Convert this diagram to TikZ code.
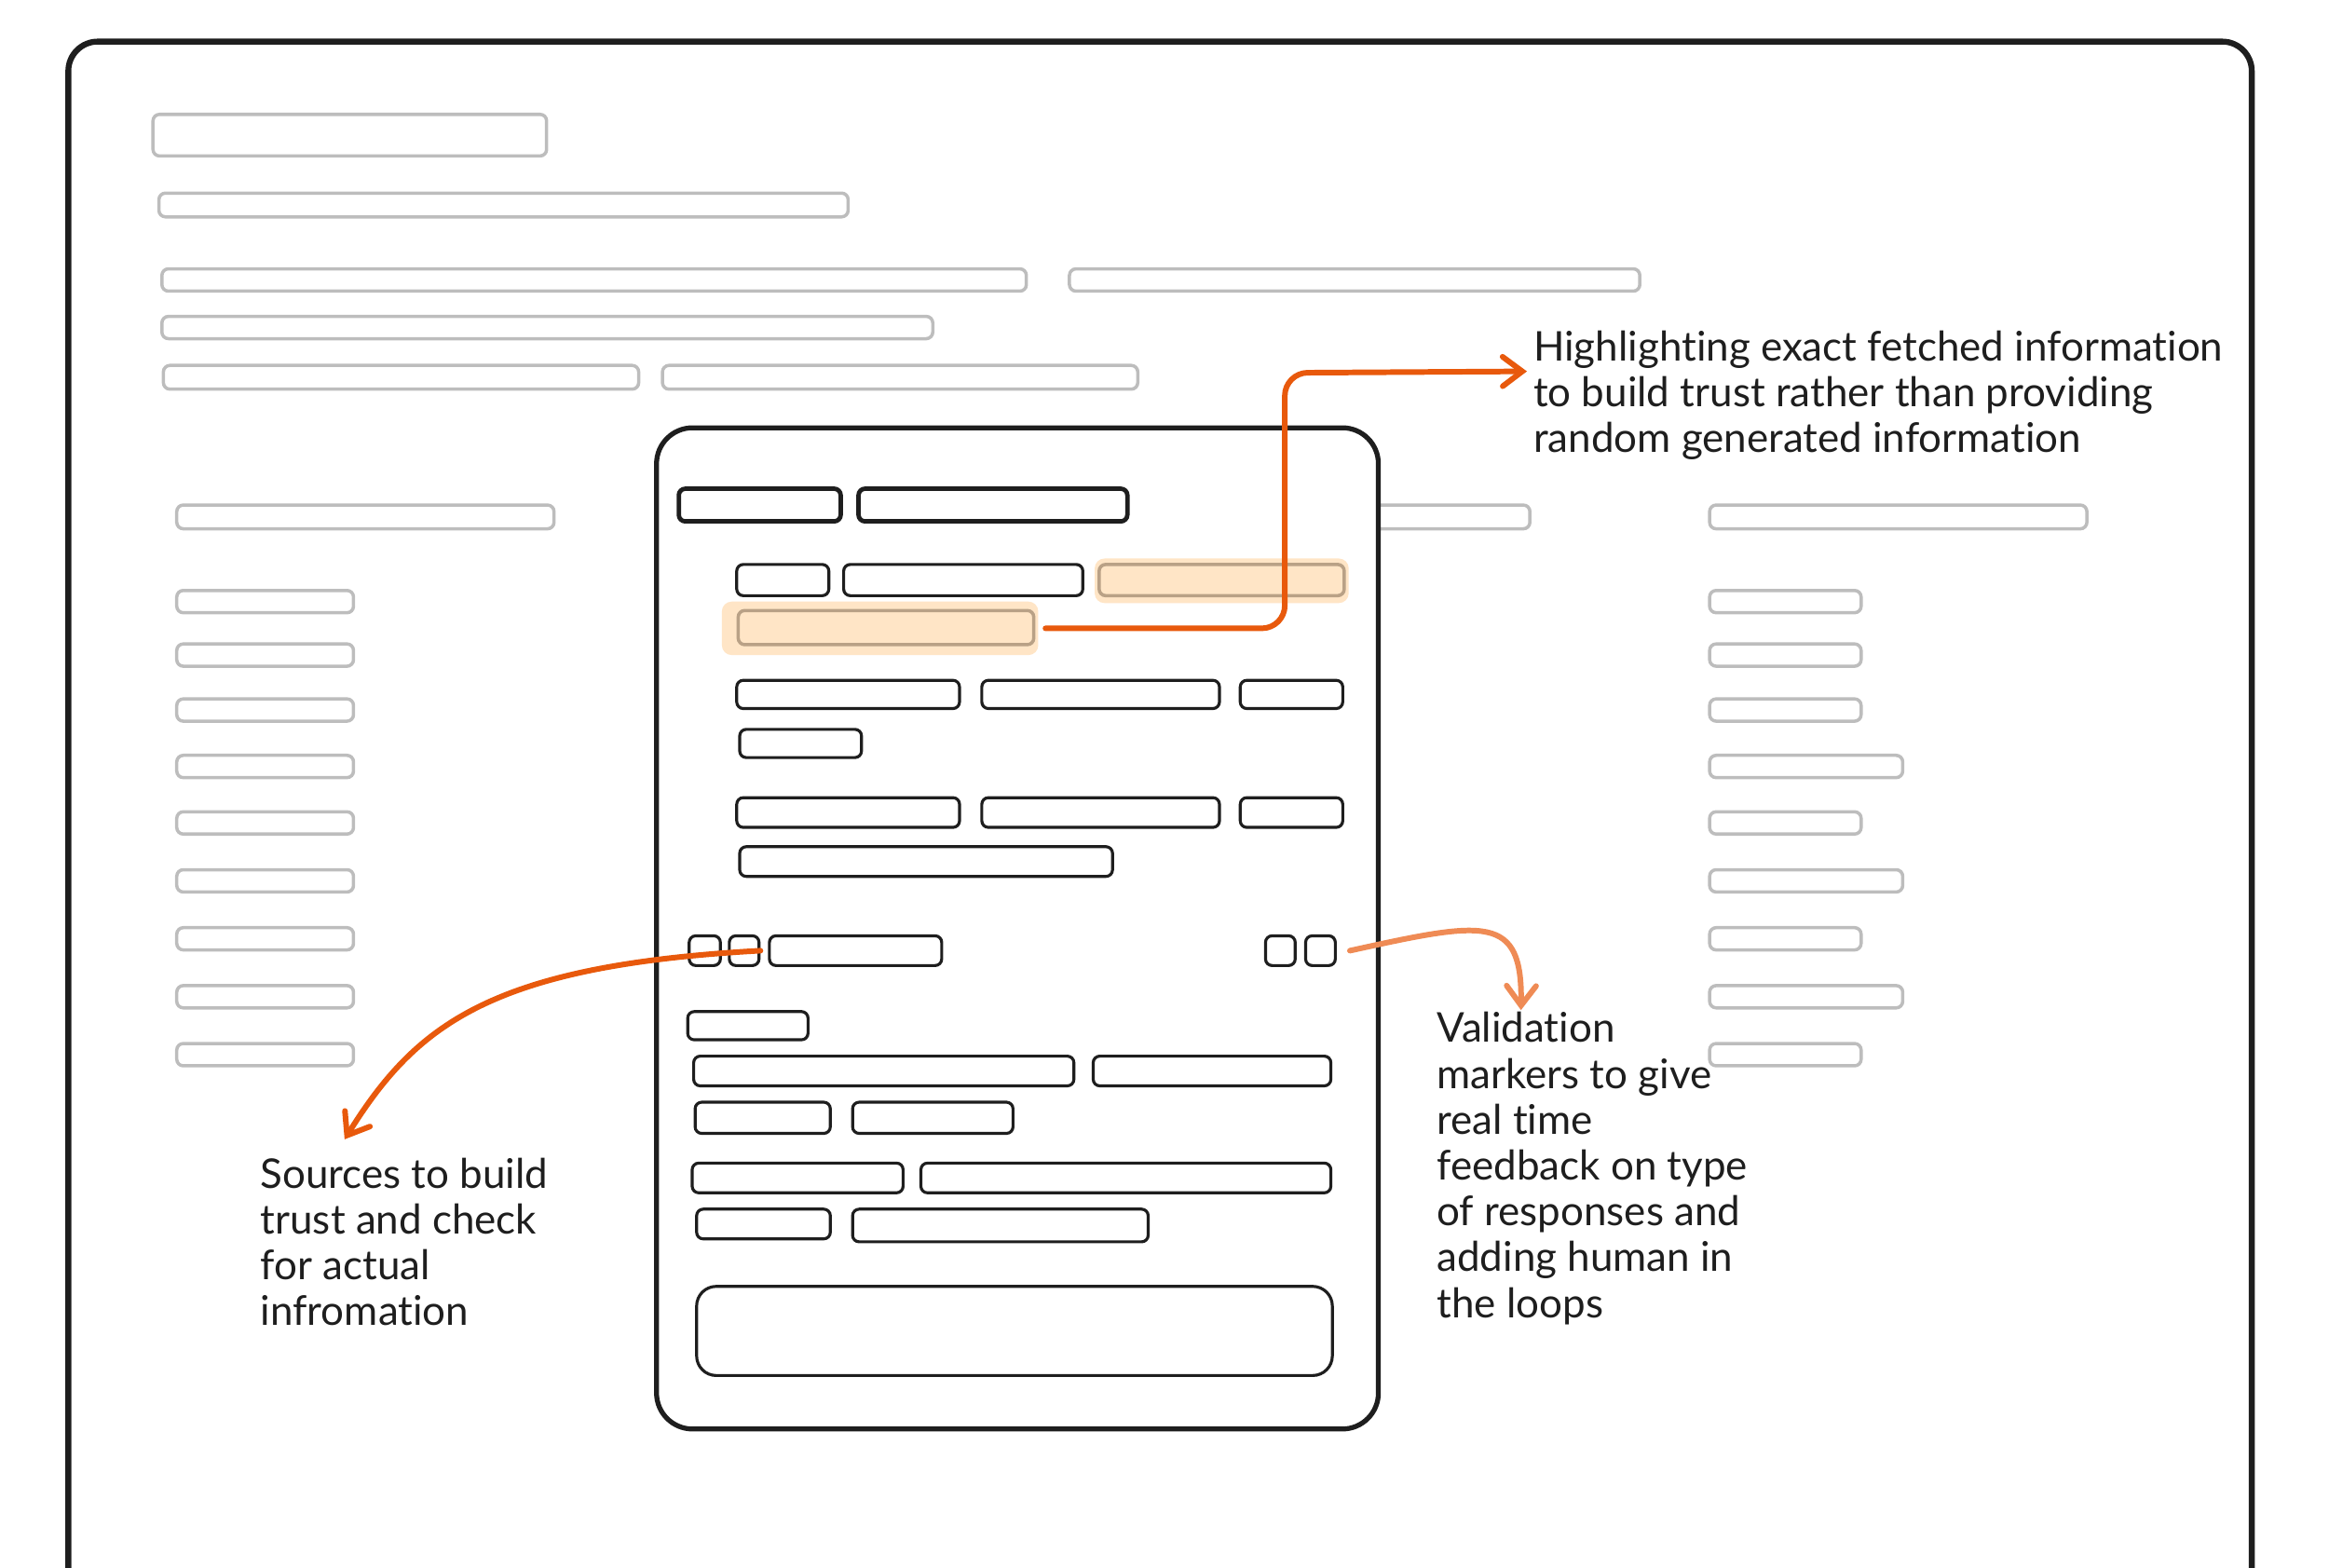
\documentclass[tikz,border=0pt]{standalone}
\usepackage{fontspec}
\setmainfont{Lato}[Ligatures=NoCommon]
\usetikzlibrary{fit,arrows.meta}
\definecolor{ink}{HTML}{1E1E1E}
\definecolor{greyc}{HTML}{BDBDBD}
\definecolor{orng}{HTML}{E8590C}
\definecolor{orngl}{HTML}{EF8B55}
\definecolor{hlfill}{HTML}{FFE5C6}
\definecolor{hlstroke}{HTML}{B9A186}
\newcommand{\bx}[6]{\node[#1, fit={(#3,#4) (#5,#6)}] (#2) {};}
\begin{document}
\begin{tikzpicture}[x=0.015944cm,y=-0.015944cm,
  frame/.style={draw=ink, line width=1.8pt, line join=round},
  gbox/.style={draw=greyc, line width=1pt, rounded corners=2pt, inner sep=0pt, outer sep=0pt},
  card/.style={draw=ink, fill=white, line width=1.5pt, rounded corners=11pt, inner sep=0pt},
  kbox/.style={draw=ink, line width=0.9pt, rounded corners=2pt, inner sep=0pt},
  kthick/.style={draw=ink, line width=1.35pt, rounded corners=2pt, inner sep=0pt},
  hlbg/.style={fill=hlfill, draw=none, rounded corners=3pt, inner sep=0pt},
  hlbox/.style={draw=hlstroke, line width=1pt, rounded corners=2pt, inner sep=0pt},
  bigbox/.style={draw=ink, line width=0.9pt, rounded corners=6pt, inner sep=0pt},
  arr/.style={draw=orng, line width=1.7pt, line cap=round, line join=round, -{Straight Barb[length=6pt,width=9pt,line cap=round]}},
  arrl/.style={arr, draw=orngl},
  note/.style={text=ink, align=left, inner sep=0pt, font=\fontsize{12.5}{14}\selectfont}
]
\useasboundingbox (0,0) rectangle (1568,1055);
\begin{scope}
\clip (0,0) rectangle (1568,1055);
\draw[frame, rounded corners=9pt] (46,1120) -- (46,28) -- (1516,28) -- (1516,1120);
\end{scope}
% grey page content
\bx{gbox}{g1}{103}{77}{368}{105}
\bx{gbox}{g2}{107}{130}{571}{146}
\bx{gbox}{g3}{109}{181}{691}{196}
\bx{gbox}{g4}{720}{181}{1104}{196}
\bx{gbox}{g5}{109}{213}{628}{228}
\bx{gbox}{g6}{110}{246}{430}{262}
\bx{gbox}{g7}{446}{246}{766}{262}
\bx{gbox}{gl}{119}{340}{373}{356}
\bx{gbox}{gm}{830}{340}{1030}{356}
\bx{gbox}{gr}{1151}{340}{1405}{356}
\foreach \c [count=\i] in {405,441,478,516,554,593,632,671,710}{
  \bx{gbox}{gl\i}{119}{\c-7.5}{238}{\c+7.5}
}
\foreach \c/\w [count=\i] in {405/1253,441/1253,478/1253,516/1281,554/1253,593/1281,632/1253,671/1281,710/1253}{
  \bx{gbox}{gr\i}{1151}{\c-7.5}{\w}{\c+7.5}
}
% card
\bx{card}{card}{442}{288}{928}{962}
\bx{kthick}{c1}{457}{329}{566}{351}
\bx{kthick}{c2}{578}{329}{759}{351}
\bx{kbox}{r1a}{496}{380}{558}{401}
\bx{kbox}{r1b}{568}{380}{729}{401}
\bx{hlbg}{hl1bg}{737}{376}{908}{406}
\bx{hlbox}{hl1}{740}{380}{905}{401}
\bx{hlbg}{hl2bg}{486}{405}{699}{441}
\bx{hlbox}{hl2}{497}{411}{696}{434}
\bx{kbox}{r2a}{496}{458}{646}{477}
\bx{kbox}{r2b}{661}{458}{821}{477}
\bx{kbox}{r2c}{835}{458}{904}{477}
\bx{kbox}{r3}{498}{491}{580}{510}
\bx{kbox}{r4a}{496}{537}{646}{557}
\bx{kbox}{r4b}{661}{537}{821}{557}
\bx{kbox}{r4c}{835}{537}{904}{557}
\bx{kbox}{r5}{498}{570}{749}{590}
\bx{kbox}{s1}{464}{630}{485}{650}
\bx{kbox}{s2}{491}{630}{511}{650}
\bx{kbox}{s3}{518}{630}{634}{650}
\bx{kbox}{v1}{852}{630}{872}{650}
\bx{kbox}{v2}{879}{630}{899}{650}
\bx{kbox}{r6}{463}{681}{544}{700}
\bx{kbox}{r7a}{467}{711}{723}{731}
\bx{kbox}{r7b}{736}{711}{896}{731}
\bx{kbox}{r8a}{468}{742}{559}{763}
\bx{kbox}{r8b}{574}{742}{682}{763}
\bx{kbox}{r9a}{466}{783}{608}{803}
\bx{kbox}{r9b}{620}{783}{896}{803}
\bx{kbox}{r10a}{469}{814}{559}{834}
\bx{kbox}{r10b}{574}{814}{773}{836}
\bx{bigbox}{big}{469}{866}{897}{926}
% notes
\node[note, anchor=north west] (htext) at (1032,222) {Highlighting exact fetched information\\to build trust rather than providing\\random generated information};
\node[note, anchor=north west] (stext) at (175,779) {Sources to build\\trust and check\\for actual\\infromation};
\node[note, anchor=north west] (vtext) at (967,681) {Validation\\markers to give\\real time\\feedback on type\\of responses and\\adding human in\\the loops};
\coordinate (htip) at (1028,250);
\coordinate (stip) at (232,767);
\coordinate (vtip) at (1024,680);
% connectors
\draw[arr, rounded corners=7pt] ([xshift=2pt]hl2bg.east) -- (865,423) -- (865,251) -- (htip);
\draw[arr] (s2.east) .. controls (330,650) and (280,690) .. (stip);
\draw[arrl] ([xshift=4pt]v2.east) .. controls (1000,620) and (1025,615) .. (vtip);
\end{tikzpicture}
\end{document}
